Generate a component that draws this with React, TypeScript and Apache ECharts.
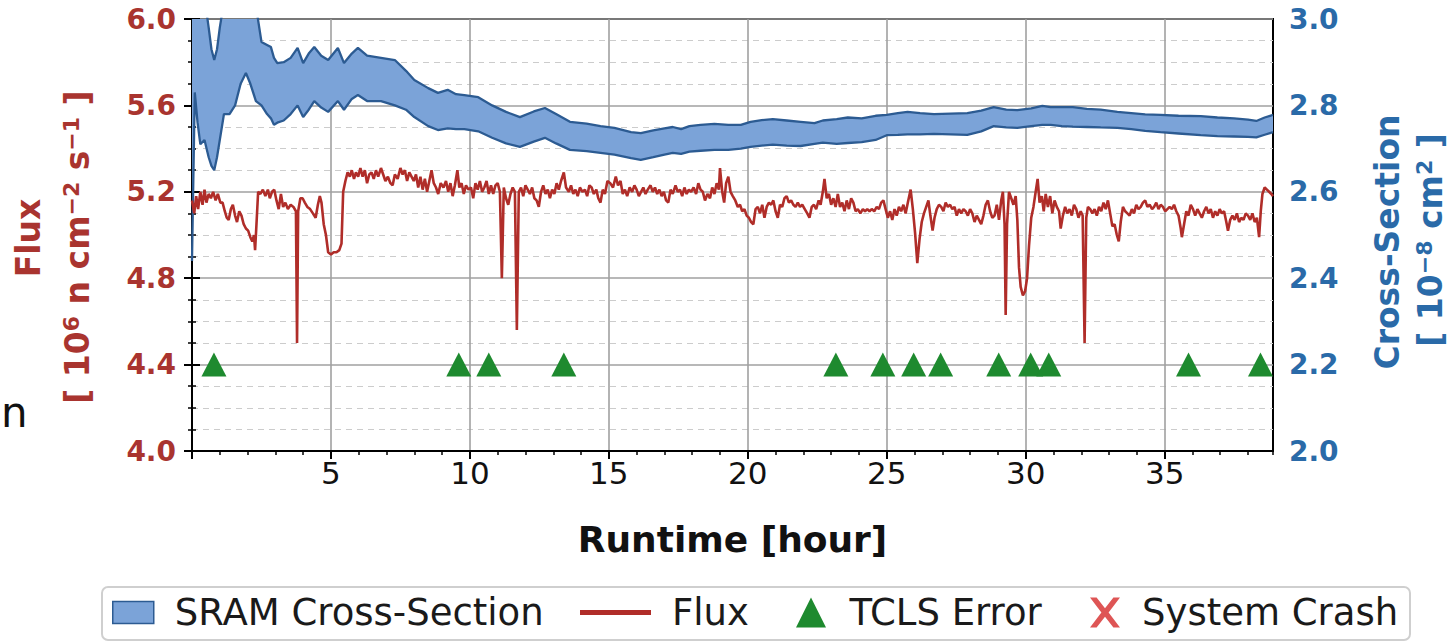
import React, { useEffect, useRef } from 'react';
import * as echarts from 'echarts';

// ---------------- data ----------------
const fluxHours = [
  0.00, 0.08, 0.15, 0.22, 0.30, 0.38, 0.45, 0.52, 0.60, 0.68, 0.76, 0.85, 0.93, 1.02, 1.10, 1.18, 1.25, 1.32, 1.40, 1.47,
  1.55, 1.62, 1.70, 1.78, 1.86, 1.94, 2.02, 2.10, 2.17, 2.23, 2.27, 2.32, 2.38, 2.46, 2.55, 2.64, 2.73, 2.80, 2.88, 2.96,
  3.04, 3.12, 3.20, 3.28, 3.36, 3.45, 3.55, 3.65, 3.74, 3.78, 3.82, 3.90, 3.98, 4.06, 4.15, 4.25, 4.35, 4.45, 4.53, 4.60,
  4.66, 4.74, 4.82, 4.90, 5.00, 5.10, 5.20, 5.30, 5.38, 5.44, 5.52, 5.60, 5.68, 5.75, 5.83, 5.90, 5.98, 6.06, 6.14, 6.22,
  6.30, 6.38, 6.46, 6.54, 6.62, 6.70, 6.80, 6.88, 6.96, 7.05, 7.14, 7.22, 7.30, 7.40, 7.50, 7.58, 7.66, 7.74, 7.82, 7.90,
  7.98, 8.06, 8.14, 8.22, 8.30, 8.38, 8.46, 8.54, 8.62, 8.70, 8.78, 8.86, 8.95, 9.05, 9.14, 9.22, 9.30, 9.38, 9.46, 9.55,
  9.62, 9.70, 9.78, 9.86, 9.95, 10.04, 10.12, 10.20, 10.28, 10.36, 10.44, 10.52, 10.60, 10.68, 10.76, 10.84, 10.92, 11.00, 11.08, 11.15,
  11.22, 11.30, 11.38, 11.46, 11.54, 11.62, 11.69, 11.76, 11.84, 11.92, 12.00, 12.08, 12.16, 12.24, 12.32, 12.40, 12.48, 12.56, 12.64, 12.72,
  12.80, 12.88, 12.96, 13.04, 13.12, 13.20, 13.28, 13.38, 13.46, 13.56, 13.64, 13.72, 13.80, 13.88, 13.96, 14.05, 14.14, 14.22, 14.30, 14.38,
  14.46, 14.55, 14.62, 14.70, 14.78, 14.86, 14.95, 15.05, 15.15, 15.25, 15.33, 15.42, 15.50, 15.58, 15.66, 15.75, 15.84, 15.92, 16.00, 16.08,
  16.16, 16.24, 16.32, 16.40, 16.50, 16.58, 16.66, 16.74, 16.82, 16.90, 16.98, 17.06, 17.14, 17.22, 17.30, 17.40, 17.48, 17.56, 17.64, 17.72,
  17.80, 17.88, 17.96, 18.05, 18.14, 18.22, 18.30, 18.38, 18.46, 18.55, 18.64, 18.72, 18.80, 18.88, 18.96, 19.00, 19.08, 19.15, 19.22, 19.30,
  19.38, 19.46, 19.55, 19.64, 19.72, 19.80, 19.88, 19.96, 20.04, 20.12, 20.20, 20.28, 20.36, 20.44, 20.52, 20.60, 20.68, 20.76, 20.84, 20.92,
  21.00, 21.08, 21.16, 21.24, 21.32, 21.40, 21.48, 21.56, 21.64, 21.72, 21.80, 21.88, 21.96, 22.05, 22.14, 22.22, 22.30, 22.38, 22.46, 22.55,
  22.62, 22.70, 22.76, 22.84, 22.92, 23.00, 23.08, 23.16, 23.24, 23.32, 23.40, 23.48, 23.56, 23.64, 23.72, 23.80, 23.88, 23.96, 24.05, 24.14,
  24.22, 24.30, 24.38, 24.46, 24.55, 24.64, 24.72, 24.80, 24.88, 24.96, 25.04, 25.12, 25.20, 25.28, 25.36, 25.44, 25.52, 25.60, 25.68, 25.76,
  25.86, 25.94, 26.02, 26.10, 26.18, 26.26, 26.34, 26.42, 26.50, 26.57, 26.65, 26.72, 26.80, 26.88, 26.96, 27.04, 27.12, 27.20, 27.28, 27.36,
  27.44, 27.52, 27.60, 27.68, 27.76, 27.84, 27.92, 28.00, 28.08, 28.16, 28.24, 28.32, 28.40, 28.48, 28.56, 28.64, 28.72, 28.80, 28.88, 28.96,
  29.04, 29.12, 29.18, 29.24, 29.28, 29.33, 29.40, 29.48, 29.56, 29.64, 29.70, 29.76, 29.82, 29.90, 29.98, 30.05, 30.12, 30.20, 30.28, 30.36,
  30.43, 30.50, 30.58, 30.65, 30.72, 30.80, 30.88, 30.96, 31.04, 31.12, 31.20, 31.26, 31.34, 31.42, 31.50, 31.58, 31.66, 31.74, 31.82, 31.90,
  31.98, 32.05, 32.12, 32.18, 32.24, 32.32, 32.40, 32.48, 32.56, 32.64, 32.72, 32.80, 32.88, 32.96, 33.04, 33.12, 33.20, 33.28, 33.35, 33.42,
  33.50, 33.58, 33.66, 33.74, 33.82, 33.90, 33.98, 34.06, 34.14, 34.22, 34.30, 34.38, 34.46, 34.55, 34.62, 34.70, 34.78, 34.86, 34.94, 35.02,
  35.10, 35.18, 35.26, 35.34, 35.42, 35.50, 35.58, 35.62, 35.70, 35.78, 35.86, 35.94, 36.02, 36.10, 36.18, 36.26, 36.34, 36.42, 36.50, 36.58,
  36.66, 36.74, 36.82, 36.90, 36.98, 37.06, 37.14, 37.22, 37.28, 37.36, 37.44, 37.52, 37.60, 37.68, 37.76, 37.84, 37.92, 38.00, 38.08, 38.16,
  38.24, 38.32, 38.40, 38.46, 38.52, 38.60, 38.68, 38.76, 38.84, 38.90,
];
const fluxValues = [
  5.16, 5.10, 5.18, 5.12, 5.20, 5.14, 5.21, 5.15, 5.19, 5.17, 5.20, 5.16, 5.19, 5.15, 5.15, 5.11, 5.08, 5.07, 5.12, 5.14,
  5.09, 5.06, 5.11, 5.09, 5.05, 5.03, 5.02, 4.99, 4.97, 5.00, 4.93, 5.05, 5.20, 5.19, 5.21, 5.18, 5.21, 5.17, 5.20, 5.21,
  5.16, 5.12, 5.19, 5.13, 5.15, 5.12, 5.14, 5.13, 5.11, 4.50, 5.11, 5.17, 5.17, 5.15, 5.13, 5.12, 5.10, 5.08, 5.14, 5.18,
  5.15, 5.05, 5.00, 4.92, 4.91, 4.92, 4.92, 4.93, 4.96, 5.20, 5.25, 5.29, 5.27, 5.30, 5.26, 5.29, 5.27, 5.31, 5.27, 5.30,
  5.24, 5.28, 5.29, 5.26, 5.30, 5.27, 5.31, 5.28, 5.25, 5.27, 5.24, 5.23, 5.28, 5.26, 5.31, 5.28, 5.30, 5.25, 5.29, 5.27,
  5.25, 5.28, 5.22, 5.27, 5.21, 5.26, 5.20, 5.25, 5.30, 5.24, 5.22, 5.19, 5.24, 5.22, 5.25, 5.20, 5.24, 5.18, 5.23, 5.30,
  5.22, 5.24, 5.19, 5.23, 5.21, 5.22, 5.17, 5.24, 5.21, 5.25, 5.20, 5.22, 5.25, 5.19, 5.23, 5.19, 5.23, 5.24, 5.20, 4.80,
  5.22, 5.17, 5.14, 5.19, 5.22, 5.20, 4.56, 5.20, 5.22, 5.18, 5.23, 5.21, 5.19, 5.22, 5.17, 5.16, 5.13, 5.20, 5.23, 5.19,
  5.21, 5.17, 5.21, 5.19, 5.24, 5.21, 5.25, 5.29, 5.22, 5.20, 5.23, 5.19, 5.21, 5.18, 5.22, 5.20, 5.21, 5.18, 5.23, 5.22,
  5.19, 5.21, 5.17, 5.15, 5.21, 5.19, 5.25, 5.24, 5.22, 5.27, 5.23, 5.25, 5.19, 5.21, 5.18, 5.22, 5.20, 5.23, 5.21, 5.18,
  5.20, 5.22, 5.19, 5.21, 5.23, 5.20, 5.22, 5.19, 5.21, 5.18, 5.20, 5.16, 5.15, 5.21, 5.19, 5.23, 5.20, 5.21, 5.18, 5.22,
  5.19, 5.21, 5.20, 5.22, 5.19, 5.24, 5.21, 5.20, 5.16, 5.19, 5.17, 5.22, 5.19, 5.24, 5.21, 5.31, 5.20, 5.15, 5.24, 5.27,
  5.20, 5.18, 5.16, 5.13, 5.14, 5.11, 5.12, 5.09, 5.08, 5.06, 5.05, 5.12, 5.13, 5.10, 5.14, 5.08, 5.13, 5.15, 5.14, 5.16,
  5.11, 5.08, 5.14, 5.13, 5.17, 5.18, 5.15, 5.16, 5.14, 5.13, 5.15, 5.13, 5.14, 5.12, 5.10, 5.08, 5.13, 5.14, 5.12, 5.16,
  5.14, 5.20, 5.26, 5.17, 5.19, 5.14, 5.17, 5.13, 5.19, 5.13, 5.15, 5.11, 5.16, 5.12, 5.17, 5.15, 5.11, 5.12, 5.10, 5.12,
  5.11, 5.12, 5.11, 5.12, 5.11, 5.13, 5.12, 5.15, 5.16, 5.12, 5.08, 5.11, 5.07, 5.12, 5.09, 5.13, 5.11, 5.14, 5.10, 5.15,
  5.21, 5.12, 5.01, 4.87, 4.98, 5.06, 5.10, 5.13, 5.16, 5.09, 5.02, 5.08, 5.12, 5.14, 5.13, 5.11, 5.15, 5.13, 5.14, 5.12,
  5.13, 5.09, 5.12, 5.10, 5.12, 5.11, 5.09, 5.12, 5.10, 5.06, 5.09, 5.07, 5.05, 5.09, 5.14, 5.16, 5.11, 5.08, 5.09, 5.14,
  5.07, 5.16, 5.20, 5.05, 4.63, 5.05, 5.20, 5.17, 5.14, 5.18, 5.07, 4.85, 4.76, 4.72, 4.74, 4.80, 4.95, 5.08, 5.13, 5.20,
  5.26, 5.15, 5.18, 5.11, 5.19, 5.13, 5.18, 5.10, 5.16, 5.13, 5.11, 5.03, 5.09, 5.13, 5.10, 5.12, 5.09, 5.14, 5.12, 5.08,
  5.11, 5.09, 4.50, 5.08, 5.13, 5.12, 5.10, 5.12, 5.09, 5.13, 5.11, 5.15, 5.12, 5.16, 5.10, 5.04, 5.05, 5.00, 4.97, 5.06,
  5.13, 5.11, 5.10, 5.09, 5.12, 5.10, 5.14, 5.12, 5.13, 5.15, 5.16, 5.13, 5.14, 5.12, 5.13, 5.15, 5.12, 5.14, 5.13, 5.11,
  5.12, 5.13, 5.12, 5.14, 5.11, 5.09, 5.03, 4.99, 5.05, 5.11, 5.09, 5.14, 5.12, 5.09, 5.12, 5.10, 5.08, 5.11, 5.13, 5.10,
  5.12, 5.08, 5.11, 5.09, 5.12, 5.10, 5.11, 5.06, 5.02, 5.07, 5.09, 5.07, 5.10, 5.06, 5.08, 5.07, 5.10, 5.09, 5.07, 5.10,
  5.06, 5.08, 4.99, 5.11, 5.19, 5.22, 5.21, 5.20, 5.19, 5.18,
];

const csHours = [
  0.00, 0.10, 0.20, 0.30, 0.45, 0.60, 0.70, 0.80, 0.90, 1.00, 1.15, 1.35, 1.55, 1.75, 1.94, 2.10, 2.30, 2.50, 2.70, 2.84,
  2.95, 3.07, 3.30, 3.55, 3.80, 4.00, 4.20, 4.40, 4.65, 4.90, 5.25, 5.47, 5.75, 5.97, 6.30, 6.80, 7.30, 7.70, 8.00, 8.50,
  8.85, 9.20, 9.50, 9.80, 10.30, 10.80, 11.30, 11.80, 12.30, 12.70, 13.10, 13.60, 14.20, 14.70, 15.20, 15.80, 16.15, 16.60, 17.00, 17.30,
  17.60, 17.90, 18.30, 18.80, 19.30, 19.75, 20.10, 20.50, 20.90, 21.40, 21.90, 22.40, 22.70, 23.20, 23.60, 24.10, 24.60, 25.00, 25.40, 25.75,
  26.20, 26.70, 27.30, 27.90, 28.40, 28.85, 29.30, 29.70, 30.20, 30.60, 30.90, 31.30, 31.70, 32.20, 32.70, 33.30, 33.80, 34.30, 34.85, 35.50,
  36.30, 36.90, 37.50, 38.00, 38.30, 38.60, 38.90,
];
const csUpper = [
  3.10, 3.10, 3.10, 3.08, 3.05, 2.98, 2.93, 2.905, 2.93, 2.98, 3.04, 3.06, 3.05, 3.06, 3.05, 3.05, 3.03, 2.947, 2.94, 2.935,
  2.91, 2.898, 2.90, 2.91, 2.933, 2.898, 2.92, 2.935, 2.915, 2.905, 2.933, 2.898, 2.92, 2.933, 2.915, 2.91, 2.905, 2.88, 2.859, 2.84,
  2.829, 2.836, 2.826, 2.824, 2.819, 2.80, 2.785, 2.773, 2.786, 2.794, 2.78, 2.762, 2.758, 2.752, 2.748, 2.738, 2.736, 2.742, 2.747, 2.75,
  2.745, 2.752, 2.755, 2.757, 2.755, 2.755, 2.762, 2.766, 2.768, 2.765, 2.762, 2.759, 2.765, 2.768, 2.772, 2.77, 2.776, 2.778, 2.782, 2.785,
  2.782, 2.78, 2.781, 2.782, 2.788, 2.796, 2.79, 2.789, 2.793, 2.799, 2.796, 2.796, 2.796, 2.792, 2.79, 2.785, 2.782, 2.779, 2.778, 2.776,
  2.775, 2.772, 2.77, 2.767, 2.764, 2.772, 2.778,
];
const csLower = [
  2.44, 2.83, 2.76, 2.71, 2.72, 2.68, 2.66, 2.65, 2.68, 2.72, 2.78, 2.78, 2.80, 2.85, 2.875, 2.85, 2.81, 2.80, 2.78, 2.77,
  2.755, 2.76, 2.765, 2.78, 2.80, 2.773, 2.79, 2.81, 2.795, 2.785, 2.81, 2.79, 2.815, 2.824, 2.81, 2.81, 2.80, 2.79, 2.773, 2.752,
  2.743, 2.747, 2.745, 2.745, 2.74, 2.725, 2.712, 2.704, 2.716, 2.725, 2.712, 2.697, 2.694, 2.69, 2.686, 2.678, 2.674, 2.68, 2.686, 2.69,
  2.688, 2.693, 2.695, 2.697, 2.697, 2.70, 2.704, 2.707, 2.709, 2.707, 2.706, 2.711, 2.714, 2.711, 2.713, 2.715, 2.72, 2.731, 2.732, 2.733,
  2.733, 2.734, 2.733, 2.732, 2.74, 2.752, 2.749, 2.748, 2.752, 2.755, 2.755, 2.752, 2.751, 2.75, 2.749, 2.748, 2.745, 2.741, 2.738, 2.735,
  2.731, 2.729, 2.728, 2.727, 2.726, 2.732, 2.738,
];

const tclsHours = [0.79, 9.6, 10.68, 13.38, 23.17, 24.86, 25.97, 26.94, 29.03, 30.18, 30.83, 35.86, 38.45];
const tclsLevel = 4.4;
const crashHours: number[] = [];

const xMajorTicks = [5, 10, 15, 20, 25, 30, 35];
const xTickMarks = [0, 5, 10, 15, 20, 25, 30, 35];
const fluxTicks = [4.0, 4.4, 4.8, 5.2, 5.6, 6.0];
const csTicks = [2.0, 2.2, 2.4, 2.6, 2.8, 3.0];

// ---------------- style ----------------
const RED = '#a9342f';
const BLUE = '#2a6aa8';
const FONT = '"DejaVu Sans", Verdana, sans-serif';
const BAND_FILL = '#7ba3d8';
const BAND_EDGE = '#2c5b92';
const FLUX_COLOR = '#b02d29';
const TCLS_COLOR = '#1e8a2f';
const CRASH_COLOR = '#d62b2b';
const X_ICON = 'path://M0,0 L2.2,0 L5,3.6 L7.8,0 L10,0 L6.2,5 L10,10 L7.8,10 L5,6.4 L2.2,10 L0,10 L3.8,5 Z';
const TRI_ICON = 'path://M5,0 L10,10 L0,10 Z';

export default function App() {
  const ref = useRef<HTMLDivElement>(null);

  useEffect(() => {
    if (!ref.current) return;
    const chart = echarts.init(ref.current, undefined, { renderer: 'svg' });

    const fluxData = fluxHours.map((h, i) => [h, fluxValues[i]]);
    const upperData = csHours.map((h, i) => [h, csUpper[i]]);
    const lowerData = csHours.map((h, i) => [h, csLower[i]]);
    const bandData = csHours.map((h, i) => [h, csUpper[i], csLower[i]]);
    const tclsData = tclsHours.map((h) => [h, tclsLevel]);
    const crashData = crashHours.map((h) => [h, tclsLevel]);

    const legendText = { fontFamily: FONT, fontSize: 37, color: '#1a1a1a' };

    chart.setOption({
      animation: false,
      backgroundColor: '#ffffff',
      grid: {
        left: 192, top: 19, width: 1081, height: 432,
        show: true, borderColor: '#000', borderWidth: 2, backgroundColor: 'transparent',
      },
      xAxis: [
        {
          type: 'value', min: 0, max: 38.9, interval: 5,
          axisLine: { show: true, lineStyle: { color: '#000', width: 2 } },
          axisTick: { show: true, length: 8, lineStyle: { color: '#000', width: 2 }, customValues: xTickMarks },
          axisLabel: {
            customValues: xMajorTicks,
            formatter: (v: number) => (xMajorTicks.includes(v) ? String(v) : ''),
            color: '#111', fontFamily: FONT, fontSize: 31, margin: 6,
          },
          splitLine: { show: true, lineStyle: { color: '#a0a0a0', width: 1.6 } },
          name: 'Runtime [hour]', nameLocation: 'middle', nameGap: 70,
          nameTextStyle: { fontFamily: FONT, fontSize: 36, fontWeight: 'bold', color: '#111' },
        },
        {
          type: 'value', min: 0, max: 38.9, interval: 1, position: 'bottom',
          axisLine: { show: false },
          axisTick: { show: true, length: 4, lineStyle: { color: '#000', width: 1.5 } },
          axisLabel: { show: false },
          splitLine: { show: false },
        },
      ],
      yAxis: [
        {
          type: 'value', min: fluxTicks[0], max: fluxTicks[fluxTicks.length - 1], interval: 0.4, position: 'left',
          axisLine: { show: true, lineStyle: { color: '#000', width: 2 } },
          axisTick: { show: true, length: 8, lineStyle: { color: '#000', width: 2 } },
          minorTick: { show: true, splitNumber: 4, length: 4, lineStyle: { color: '#000', width: 1.5 } },
          axisLabel: {
            formatter: (v: number) => v.toFixed(1), color: RED, fontFamily: FONT,
            fontSize: 28, fontWeight: 'bold', margin: 16,
          },
          splitLine: { show: true, lineStyle: { color: '#a0a0a0', width: 1.6 } },
          minorSplitLine: { show: true, lineStyle: { color: '#cccccc', width: 1.2, type: [6, 5] } },
        },
        {
          type: 'value', min: csTicks[0], max: csTicks[csTicks.length - 1], interval: 0.2, position: 'right',
          axisLine: { show: true, lineStyle: { color: '#000', width: 2 } },
          axisTick: { show: true, length: 8, lineStyle: { color: '#000', width: 2 } },
          minorTick: { show: true, splitNumber: 4, length: 4, lineStyle: { color: '#000', width: 1.5 } },
          axisLabel: {
            formatter: (v: number) => v.toFixed(1), color: BLUE, fontFamily: FONT,
            fontSize: 28, fontWeight: 'bold', margin: 16,
          },
          splitLine: { show: false },
        },
      ],
      legend: [
        {
          data: [{ name: 'SRAM Cross-Section', icon: 'rect' }],
          left: 112, top: 594, itemWidth: 41, itemHeight: 22, padding: 0, selectedMode: false,
          itemStyle: { color: BAND_FILL, borderColor: BAND_EDGE, borderWidth: 1.5 },
          textStyle: { ...legendText, padding: [0, 0, 0, 16] },
        },
        {
          data: [{ name: 'Flux', icon: 'rect' }],
          left: 580, top: 594, itemWidth: 71, itemHeight: 5, padding: 0, selectedMode: false,
          itemStyle: { color: FLUX_COLOR, borderWidth: 0 },
          textStyle: { ...legendText, padding: [0, 0, 0, 16] },
        },
        {
          data: [{ name: 'TCLS Error', icon: TRI_ICON }],
          left: 796, top: 594, itemWidth: 31, itemHeight: 30, padding: 0, selectedMode: false,
          itemStyle: { color: TCLS_COLOR, borderWidth: 0 },
          textStyle: { ...legendText, padding: [0, 0, 0, 18] },
        },
        {
          data: [{ name: 'System Crash', icon: X_ICON }],
          left: 1090, top: 594, itemWidth: 32, itemHeight: 30, padding: 0, selectedMode: false,
          itemStyle: { color: CRASH_COLOR, borderWidth: 0 },
          textStyle: { ...legendText, padding: [0, 0, 0, 16] },
        },
      ],
      graphic: [
        {
          type: 'rect', z: -1, silent: true,
          shape: { x: 102, y: 587, width: 1308, height: 53, r: 6 },
          style: { fill: '#fff', stroke: '#cfcfcf', lineWidth: 2 },
        },
        {
          type: 'text', x: 28, y: 238, rotation: Math.PI / 2,
          style: {
            text: 'Flux', fill: RED, font: `bold 33px ${FONT}`,
            align: 'center', verticalAlign: 'middle',
          },
        },
        {
          type: 'text', x: 77, y: 247, rotation: Math.PI / 2,
          style: {
            text: '[ 10{s|6} n cm{s|−2} s{s|−1} ]', fill: RED, font: `bold 33px ${FONT}`,
            align: 'center', verticalAlign: 'middle',
            rich: { s: { fontSize: 22, fontWeight: 'bold', fontFamily: FONT, fill: RED, verticalAlign: 'top' } },
          },
        },
        {
          type: 'text', x: 1387, y: 242, rotation: Math.PI / 2,
          style: {
            text: 'Cross-Section', fill: BLUE, font: `bold 33px ${FONT}`,
            align: 'center', verticalAlign: 'middle',
          },
        },
        {
          type: 'text', x: 1430, y: 240, rotation: Math.PI / 2,
          style: {
            text: '[ 10{s|−8} cm{s|2} ]', fill: BLUE, font: `bold 33px ${FONT}`,
            align: 'center', verticalAlign: 'middle',
            rich: { s: { fontSize: 22, fontWeight: 'bold', fontFamily: FONT, fill: BLUE, verticalAlign: 'top' } },
          },
        },
        {
          type: 'text', x: 1, y: 412,
          style: { text: 'n', fill: '#111', font: `42px ${FONT}`, align: 'left', verticalAlign: 'middle' },
        },
      ],
      series: [
        {
          name: 'SRAM Cross-Section', type: 'custom', xAxisIndex: 0, yAxisIndex: 1,
          data: bandData, clip: true, z: 1,
          encode: { x: 0, y: [1, 2] },
          itemStyle: { color: BAND_FILL },
          renderItem: (params: any, api: any) => {
            if (params.dataIndex !== 0) return null;
            const top = bandData.map((d) => api.coord([d[0], d[1]]));
            const bottom = bandData.map((d) => api.coord([d[0], d[2]])).reverse();
            return {
              type: 'polygon',
              shape: { points: top.concat(bottom) },
              style: { fill: BAND_FILL, stroke: 'none' },
            };
          },
        },
        {
          name: 'csUpper', type: 'line', xAxisIndex: 0, yAxisIndex: 1,
          data: upperData, showSymbol: false, symbol: 'none', z: 2,
          lineStyle: { color: BAND_EDGE, width: 2.3 }, itemStyle: { color: BAND_EDGE },
        },
        {
          name: 'csLower', type: 'line', xAxisIndex: 0, yAxisIndex: 1,
          data: lowerData, showSymbol: false, symbol: 'none', z: 2,
          lineStyle: { color: BAND_EDGE, width: 2.3 }, itemStyle: { color: BAND_EDGE },
        },
        {
          name: 'Flux', type: 'line', xAxisIndex: 0, yAxisIndex: 0,
          data: fluxData, showSymbol: false, symbol: 'none', z: 3,
          lineStyle: { color: FLUX_COLOR, width: 2.6 }, itemStyle: { color: FLUX_COLOR },
        },
        {
          name: 'TCLS Error', type: 'scatter', xAxisIndex: 0, yAxisIndex: 0,
          data: tclsData, symbol: 'triangle', symbolSize: [25, 24], z: 4,
          itemStyle: { color: TCLS_COLOR, opacity: 1 },
        },
        {
          name: 'System Crash', type: 'scatter', xAxisIndex: 0, yAxisIndex: 0,
          data: crashData, symbol: X_ICON, symbolSize: 24, z: 4,
          itemStyle: { color: CRASH_COLOR },
        },
      ],
    });

    return () => chart.dispose();
  }, []);

  return (
    <div
      ref={ref}
      style={{ position: 'absolute', left: 0, top: 0, width: 1450, height: 643, background: '#fff' }}
    />
  );
}
